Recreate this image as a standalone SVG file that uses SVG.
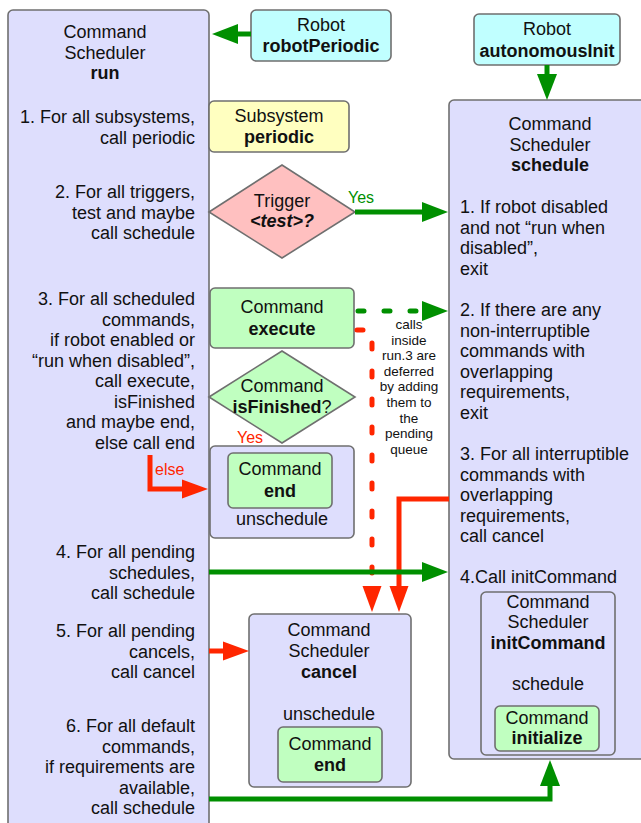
<svg xmlns="http://www.w3.org/2000/svg" width="641" height="823" viewBox="0 0 641 823">
<style>
text{font-family:"Liberation Sans",Arial,Helvetica,sans-serif;font-size:18px;fill:#111}
.b{font-weight:bold}
.c{text-anchor:middle}
.e{text-anchor:end}
.s{font-size:13.5px}
.lbl{font-size:16px}
.lav{fill:#dedefd;stroke:#6f6f6f;stroke-width:1.6}
.grn{fill:#c0ffc0;stroke:#6f6f6f;stroke-width:1.6}
.cy{fill:#c0ffff;stroke:#6f6f6f;stroke-width:1.6}
.yl{fill:#ffffc0;stroke:#6f6f6f;stroke-width:1.6}
.pk{fill:#ffc0c0;stroke:#6f6f6f;stroke-width:1.6}
.gl{fill:none;stroke:#008f00;stroke-width:5}
.rl{fill:none;stroke:#ff2600;stroke-width:5}
</style>
<defs>
<marker id="ag" viewBox="0 0 26 20" refX="0" refY="10" markerWidth="26" markerHeight="20" markerUnits="userSpaceOnUse" orient="auto"><path d="M0,0 L26,10 L0,20 z" fill="#008f00"/></marker>
<marker id="ar" viewBox="0 0 26 20" refX="0" refY="10" markerWidth="26" markerHeight="20" markerUnits="userSpaceOnUse" orient="auto"><path d="M0,0.5 L26,10 L0,19.5 z" fill="#ff2600"/></marker>
</defs>

<g id="run">
<rect class="lav" x="8" y="10" width="201" height="840" rx="5"/>
<text class="c" x="105" y="38">Command</text>
<text class="c" x="105" y="58.5">Scheduler</text>
<text class="c b" x="105" y="79">run</text>
<text class="e" x="195" y="123">1. For all subsystems,</text>
<text class="e" x="195" y="143.5">call periodic</text>
<text class="e" x="195" y="198">2. For all triggers,</text>
<text class="e" x="195" y="218.5">test and maybe</text>
<text class="e" x="195" y="239">call schedule</text>
<text class="e" x="195" y="305">3. For all scheduled</text>
<text class="e" x="195" y="325.5">commands,</text>
<text class="e" x="195" y="346">if robot enabled or</text>
<text class="e" x="195" y="366.5">“run when disabled”,</text>
<text class="e" x="195" y="387">call execute,</text>
<text class="e" x="195" y="407.5">isFinished</text>
<text class="e" x="195" y="428">and maybe end,</text>
<text class="e" x="195" y="448.5">else call end</text>
<text class="e" x="195" y="558">4. For all pending</text>
<text class="e" x="195" y="578.5">schedules,</text>
<text class="e" x="195" y="599">call schedule</text>
<text class="e" x="195" y="637">5. For all pending</text>
<text class="e" x="195" y="657.5">cancels,</text>
<text class="e" x="195" y="678">call cancel</text>
<text class="e" x="195" y="732">6. For all default</text>
<text class="e" x="195" y="752.5">commands,</text>
<text class="e" x="195" y="773">if requirements are</text>
<text class="e" x="195" y="793.5">available,</text>
<text class="e" x="195" y="814">call schedule</text>
</g>

<g id="robotPeriodic">
<rect class="cy" x="251" y="10" width="140" height="51" rx="5"/>
<text class="c" x="321" y="31">Robot</text>
<text class="c b" x="321" y="52">robotPeriodic</text>
</g>

<g id="subsystemPeriodic">
<rect class="yl" x="209" y="101" width="140" height="51" rx="5"/>
<text class="c" x="279" y="122">Subsystem</text>
<text class="c b" x="279" y="142.5">periodic</text>
</g>

<g id="trigger">
<path class="pk" d="M209,212 L282,165 L355,212 L282,258 z"/>
<text class="c" x="282" y="207">Trigger</text>
<text class="c b" x="282" y="227" font-style="italic">&lt;test&gt;?</text>
</g>

<g id="execute">
<rect class="grn" x="210" y="288" width="144" height="60" rx="5"/>
<text class="c" x="282" y="313">Command</text>
<text class="c b" x="282" y="335">execute</text>
</g>

<g id="isFinished">
<path class="grn" d="M209,397 L282,351 L355,397 L282,443 z"/>
<text class="c" x="282" y="392">Command</text>
<text class="c" x="282" y="413"><tspan class="b">isFinished</tspan>?</text>
</g>

<g id="endUnschedule">
<rect class="lav" x="210" y="446" width="144" height="92" rx="5"/>
<rect class="grn" x="228" y="453" width="104" height="55" rx="5"/>
<text class="c" x="280" y="475">Command</text>
<text class="c b" x="280" y="497">end</text>
<text class="c" x="282" y="525">unschedule</text>
</g>

<g id="note">
<text class="c s" x="409" y="329">calls</text>
<text class="c s" x="409" y="344.6">inside</text>
<text class="c s" x="409" y="360.2">run.3 are</text>
<text class="c s" x="409" y="375.8">deferred</text>
<text class="c s" x="409" y="391.4">by adding</text>
<text class="c s" x="409" y="407">them to</text>
<text class="c s" x="409" y="422.6">the</text>
<text class="c s" x="409" y="438.2">pending</text>
<text class="c s" x="409" y="453.8">queue</text>
</g>

<g id="autonomousInit">
<rect class="cy" x="474" y="14" width="146" height="51" rx="5"/>
<text class="c" x="547" y="35">Robot</text>
<text class="c b" x="547" y="57">autonomousInit</text>
</g>

<g id="schedule">
<rect class="lav" x="449" y="100" width="210" height="659" rx="5"/>
<text class="c" x="550" y="130">Command</text>
<text class="c" x="550" y="150.5">Scheduler</text>
<text class="c b" x="550" y="171">schedule</text>
<text x="460" y="213">1. If robot disabled</text>
<text x="460" y="233.5">and not “run when</text>
<text x="460" y="254">disabled”,</text>
<text x="460" y="274.5">exit</text>
<text x="460" y="316">2. If there are any</text>
<text x="460" y="336.5">non-interruptible</text>
<text x="460" y="357">commands with</text>
<text x="460" y="377.5">overlapping</text>
<text x="460" y="398">requirements,</text>
<text x="460" y="418.5">exit</text>
<text x="460" y="460">3. For all interruptible</text>
<text x="460" y="480.5">commands with</text>
<text x="460" y="501">overlapping</text>
<text x="460" y="521.5">requirements,</text>
<text x="460" y="542">call cancel</text>
<text x="460" y="583">4.Call initCommand</text>
</g>

<g id="initCommand">
<rect class="lav" x="481" y="592" width="134" height="163" rx="5"/>
<text class="c" x="548" y="607.5">Command</text>
<text class="c" x="548" y="628">Scheduler</text>
<text class="c b" x="548" y="648.5">initCommand</text>
<text class="c" x="548" y="690">schedule</text>
<rect class="grn" x="495" y="706" width="104" height="45" rx="5"/>
<text class="c" x="547" y="723.5">Command</text>
<text class="c b" x="547" y="744">initialize</text>
</g>

<g id="cancel">
<rect class="lav" x="249" y="614" width="162" height="173" rx="5"/>
<text class="c" x="329" y="636">Command</text>
<text class="c" x="329" y="657">Scheduler</text>
<text class="c b" x="329" y="678">cancel</text>
<text class="c" x="329" y="720">unschedule</text>
<rect class="grn" x="278" y="727" width="104" height="55" rx="5"/>
<text class="c" x="330" y="750">Command</text>
<text class="c b" x="330" y="771">end</text>
</g>

<g id="connectors">
<path class="gl" d="M251,34 L238,34" marker-end="url(#ag)"/>
<path class="gl" d="M547,65 L547,74" stroke-width="6" marker-end="url(#ag)"/>
<path class="gl" d="M355,212 L422,212" marker-end="url(#ag)"/>
<text x="348" y="203" class="lbl" fill="#008f00" style="fill:#008f00">Yes</text>
<path class="gl" d="M358,311 L422,311" stroke-dasharray="6 20" stroke-linecap="round" marker-end="url(#ag)"/>
<path class="rl" d="M357,330 L372,330 L372,586" stroke-dasharray="6 22" stroke-linecap="round"/>
<path d="M362.5,586 L381.5,586 L372,612 z" fill="#ff2600"/>
<text x="237" y="443" class="lbl" style="fill:#ff2600">Yes</text>
<path class="rl" d="M150,455 L150,489 L182,489" marker-end="url(#ar)"/>
<text x="155" y="475" class="lbl" style="fill:#ff2600">else</text>
<path class="rl" d="M449,499 L399,499 L399,586" marker-end="url(#ar)"/>
<path class="gl" d="M209,572 L422,572" marker-end="url(#ag)"/>
<path class="rl" d="M209,651 L223,651" marker-end="url(#ar)"/>
<path class="gl" d="M209,799 L550,799 L550,786" marker-end="url(#ag)"/>
</g>
</svg>
